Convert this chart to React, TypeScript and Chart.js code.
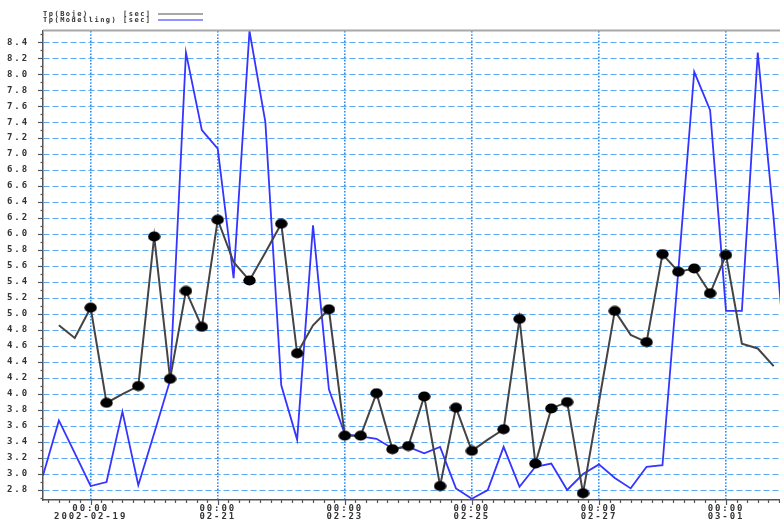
import React, { useEffect, useRef } from 'react';
import { Chart, registerables } from 'chart.js';

Chart.register(...registerables);

// hours since 2002-02-18 06:00 (one sample every 6 hours)
const sampleHours = [
  0, 6, 12, 18, 24, 30, 36, 42, 48, 54, 60, 66, 72, 78, 84, 90, 96, 102, 108, 114, 120, 126, 132, 138,
  144, 150, 156, 162, 168, 174, 180, 186, 192, 198, 204, 210, 216, 222, 228, 234, 240, 246, 252, 258,
  264, 270, 276, 282,
];

const bojeValues: (number | null)[] = [
  null, 4.86, 4.7, 5.08, 3.89, 4.0, 4.1, 5.97, 4.19, 5.29, 4.84, 6.18, 5.65, 5.42, 5.77, 6.13, 4.51,
  4.86, 5.06, 3.48, 3.48, 4.01, 3.31, 3.35, 3.97, 2.85, 3.83, 3.29, 3.43, 3.56, 4.94, 3.13, 3.82, 3.9,
  2.76, 3.9, 5.04, 4.74, 4.65, 5.75, 5.53, 5.57, 5.26, 5.74, 4.63, 4.57, 4.35, null,
];

// 1 = a measured point drawn with a black dot
const bojeDots = [
  0, 0, 0, 1, 1, 0, 1, 1, 1, 1, 1, 1, 0, 1, 0, 1, 1, 0, 1, 1, 1, 1, 1, 1, 1, 1, 1, 1, 0, 1, 1, 1, 1, 1,
  1, 0, 1, 0, 1, 1, 1, 1, 1, 1, 0, 0, 0, 0,
];

const modelValues = [
  2.98, 3.67, 3.26, 2.85, 2.9, 3.78, 2.86, 3.51, 4.17, 8.27, 7.3, 7.07, 5.45, 8.54, 7.4, 4.11, 3.43,
  6.11, 4.06, 3.5, 3.47, 3.44, 3.32, 3.34, 3.26, 3.34, 2.82, 2.69, 2.8, 3.34, 2.84, 3.09, 3.13, 2.8,
  3.0, 3.12, 2.95, 2.82, 3.09, 3.11, 5.55, 8.03, 7.55, 5.04, 5.04, 8.27, 6.2, 3.8,
];

const yTickValues = [
  2.8, 3.0, 3.2, 3.4, 3.6, 3.8, 4.0, 4.2, 4.4, 4.6, 4.8, 5.0, 5.2, 5.4, 5.6, 5.8, 6.0, 6.2, 6.4, 6.6,
  6.8, 7.0, 7.2, 7.4, 7.6, 7.8, 8.0, 8.2, 8.4,
];

const xTickHours = [18, 66, 114, 162, 210, 258];
const xTickLabels = [
  ['00:00', '2002-02-19'],
  ['00:00', '02-21'],
  ['00:00', '02-23'],
  ['00:00', '02-25'],
  ['00:00', '02-27'],
  ['00:00', '03-01'],
];

const legendNames = ['Tp(Boje)', 'Tp(Modelling)'];
const legendUnits = ['[sec]', '[sec]'];
const legendColors = ['#8a8a8a', '#6f6fff'];

const X_MIN = 0;
const X_MAX = 278.4;
const Y_MIN = 2.675;
const Y_MAX = 8.54;

const tickFont = { family: '"DejaVu Sans Mono", monospace', weight: 'bold' as const, size: 9, lineHeight: 0.95 };

const decorPlugin = {
  id: 'decor',
  beforeUpdate(chart: any) {
    chart.ctx.letterSpacing = '1.9px';
  },
  beforeDraw(chart: any) {
    chart.ctx.letterSpacing = '1.9px';
  },
  afterDraw(chart: any) {
    const ctx = chart.ctx;
    const area = chart.chartArea;
    const xs = chart.scales.x;
    const ys = chart.scales.y;
    ctx.save();
    // top frame line
    ctx.strokeStyle = '#a8a8a8';
    ctx.lineWidth = 2;
    ctx.beginPath();
    ctx.moveTo(area.left, area.top - 0.5);
    ctx.lineTo(area.right, area.top - 0.5);
    ctx.stroke();

    ctx.strokeStyle = '#555';
    ctx.lineWidth = 1.2;
    // left ticks every 0.1
    for (let k = 27; k <= 85; k++) {
      const v = k / 10;
      const y = Math.round(ys.getPixelForValue(v)) + 0.5;
      if (y < area.top || y > area.bottom) continue;
      const major = k % 2 === 0;
      ctx.beginPath();
      ctx.moveTo(area.left, y);
      ctx.lineTo(area.left - (major ? 5 : 2.5), y);
      ctx.stroke();
    }
    // bottom ticks every 4 hours
    for (let h = 2; h <= X_MAX; h += 4) {
      const x = Math.round(xs.getPixelForValue(h)) + 0.5;
      if (x < area.left || x > area.right) continue;
      const major = xTickHours.indexOf(h) >= 0;
      ctx.beginPath();
      ctx.moveTo(x, area.bottom);
      ctx.lineTo(x, area.bottom + (major ? 5 : 3));
      ctx.stroke();
    }

    // legend
    ctx.font = 'bold 7px "DejaVu Sans Mono", monospace';
    ctx.letterSpacing = '1.5px';
    ctx.fillStyle = '#333';
    ctx.textBaseline = 'middle';
    ctx.textAlign = 'left';
    const rows = [14, 20];
    for (let i = 0; i < legendNames.length; i++) {
      ctx.fillText(legendNames[i], 43, rows[i]);
      ctx.fillText(legendUnits[i], 123, rows[i]);
      ctx.strokeStyle = legendColors[i];
      ctx.lineWidth = 1.6;
      ctx.beginPath();
      ctx.moveTo(158, rows[i]);
      ctx.lineTo(203, rows[i]);
      ctx.stroke();
    }
    ctx.restore();
  },
};

export default function App() {
  const canvasRef = useRef<HTMLCanvasElement | null>(null);

  useEffect(() => {
    if (!canvasRef.current) return;
    const dot = document.createElement('canvas');
    dot.width = 13;
    dot.height = 11;
    const dc = dot.getContext('2d')!;
    dc.fillStyle = '#000';
    dc.beginPath();
    dc.ellipse(6.5, 5.5, 6.2, 5.1, 0, 0, Math.PI * 2);
    dc.fill();

    const chart = new Chart(canvasRef.current, {
      type: 'line',
      data: {
        datasets: [
          {
            label: 'Tp(Boje) [sec]',
            data: sampleHours.map((h, i) => ({ x: h, y: bojeValues[i] })) as any,
            borderColor: '#444',
            borderWidth: 2,
            pointStyle: dot as any,
            pointRadius: bojeDots.map((d) => (d ? 5 : 0)),
            pointBackgroundColor: '#000',
            pointBorderWidth: 0,
            order: 0,
          },
          {
            label: 'Tp(Modelling) [sec]',
            data: sampleHours.map((h, i) => ({ x: h, y: modelValues[i] })),
            borderColor: '#3535ff',
            borderWidth: 1.8,
            pointRadius: 0,
            order: 1,
          },
        ],
      },
      options: {
        animation: false,
        responsive: false,
        events: [],
        layout: { padding: { top: 31, left: 0, right: 0, bottom: 0 } },
        plugins: { legend: { display: false }, tooltip: { enabled: false } },
        scales: {
          x: {
            type: 'linear',
            min: X_MIN,
            max: X_MAX,
            afterBuildTicks: (s: any) => {
              s.ticks = xTickHours.map((v) => ({ value: v }));
            },
            afterFit: (s: any) => {
              s.height = 22;
            },
            ticks: {
              autoSkip: false,
              maxRotation: 0,
              padding: 4,
              color: '#333',
              font: tickFont,
              callback: (v: any) => {
                const k = xTickHours.indexOf(Number(v));
                return k >= 0 ? xTickLabels[k] : '';
              },
            },
            grid: { color: '#2a8cf2', lineWidth: 1.6, drawTicks: false },
            border: { display: true, color: '#555', width: 1.5, dash: [1.6, 1.6] },
          },
          y: {
            type: 'linear',
            min: Y_MIN,
            max: Y_MAX,
            afterBuildTicks: (s: any) => {
              s.ticks = yTickValues.map((v) => ({ value: v }));
            },
            afterFit: (s: any) => {
              s.width = 43;
            },
            ticks: {
              autoSkip: false,
              padding: 14,
              color: '#333',
              font: tickFont,
              callback: (v: any) => Number(v).toFixed(1),
            },
            grid: { color: '#5aa8f2', lineWidth: 1, drawTicks: false },
            border: { display: true, color: '#555', width: 1.5, dash: [6, 3] },
          },
        },
      },
      plugins: [decorPlugin],
    });
    return () => chart.destroy();
  }, []);

  return (
    <div style={{ position: 'absolute', left: 0, top: 0, width: 780, height: 522, background: '#fff' }}>
      <canvas ref={canvasRef} width={780} height={522} style={{ display: 'block' }} />
    </div>
  );
}
